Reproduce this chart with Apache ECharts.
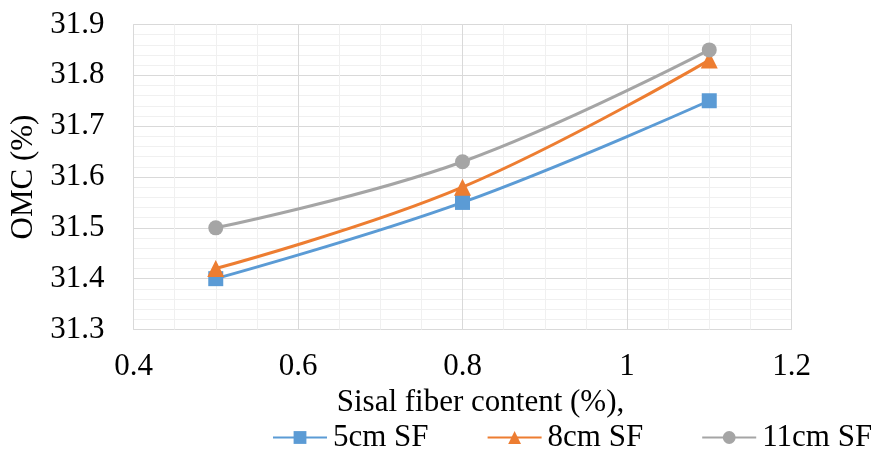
<!DOCTYPE html>
<html><head><meta charset="utf-8">
<script src="https://cdn.jsdelivr.net/npm/echarts@6/dist/echarts.min.js"></script>
<style>html,body{margin:0;padding:0;background:#fff}#c{width:871px;height:452px}</style>
</head><body><div id="c"></div>
<script>
const xValues = [0.5, 0.8, 1.1];
const s5cm = [31.40, 31.55, 31.75];
const s8cm = [31.42, 31.58, 31.83];
const s11cm = [31.50, 31.63, 31.85];
const seriesNames = ['5cm SF', '8cm SF', '11cm SF'];
const colors = ['#5B9BD5', '#ED7D31', '#A5A5A5'];
const symbols = ['rect', 'triangle', 'circle'];
const allData = [s5cm, s8cm, s11cm];
const font = '"Liberation Serif", "Times New Roman", serif';

const chart = echarts.init(document.getElementById('c'));
chart.setOption({
  animation: false,
  grid: { left: 133.5, right: 79.5, top: 24.5, bottom: 122.5, show: true, borderColor: '#d9d9d9', borderWidth: 1 },
  legend: {
    top: 422, left: 272, width: 800, padding: 0,
    itemWidth: 54, itemHeight: 16, itemGap: 58,
    textStyle: { fontFamily: font, fontSize: 31, color: '#000', padding: [0, 0, 0, 1] },
    data: seriesNames
  },
  xAxis: {
    type: 'value', min: 0.4, max: 1.2, interval: 0.2,
    name: 'Sisal fiber content (%),', nameLocation: 'middle', nameGap: 53,
    nameTextStyle: { fontFamily: font, fontSize: 31, color: '#000', padding: [0, 0, 0, 36] },
    axisLine: { show: false }, axisTick: { show: false },
    axisLabel: { fontFamily: font, fontSize: 31, color: '#000', margin: 22, formatter: v => String(+v.toFixed(1)) },
    splitLine: { show: true, lineStyle: { color: '#d9d9d9', width: 1 } },
    minorTick: { show: false, splitNumber: 4 },
    minorSplitLine: { show: true, lineStyle: { color: '#f0f0f0', width: 1 } }
  },
  yAxis: {
    type: 'value', min: 31.3, max: 31.9, interval: 0.1,
    name: 'OMC (%)', nameLocation: 'middle', nameGap: 91, nameRotate: 90,
    nameTextStyle: { fontFamily: font, fontSize: 31, color: '#000' },
    axisLine: { show: false }, axisTick: { show: false },
    axisLabel: { fontFamily: font, fontSize: 31, color: '#000', margin: 29, formatter: v => v.toFixed(1) },
    splitLine: { show: true, lineStyle: { color: '#d9d9d9', width: 1 } },
    minorTick: { show: false, splitNumber: 5 },
    minorSplitLine: { show: true, lineStyle: { color: '#f0f0f0', width: 1 } }
  },
  series: allData.map((d, i) => ({
    name: seriesNames[i], type: 'line', smooth: 0.4,
    data: xValues.map((x, j) => [x, d[j]]),
    symbol: symbols[i], symbolSize: i === 1 ? 17 : 15,
    itemStyle: { color: colors[i] },
    lineStyle: { color: colors[i], width: 3 }
  }))
});
</script></body></html>
